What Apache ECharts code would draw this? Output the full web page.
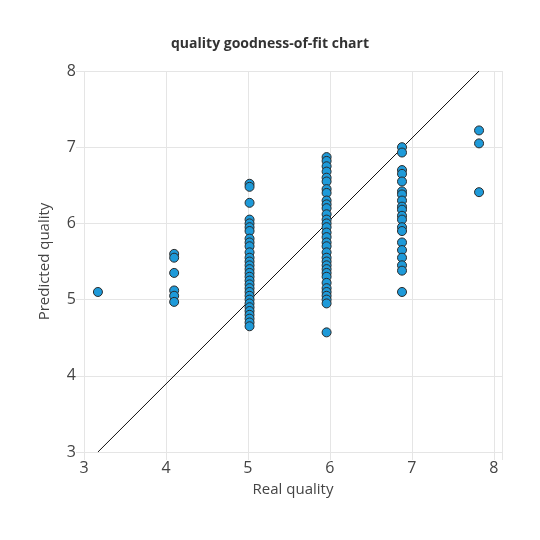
<!DOCTYPE html><html><head><meta charset="utf-8"><script src="https://cdn.jsdelivr.net/npm/echarts@6/dist/echarts.min.js"></script></head><body style="margin:0"><div id="c" style="width:540px;height:540px"></div><script>
const xPos = [3.17, 4.1, 5.02, 5.96, 6.88, 7.82];
const q3 = [5.1];
const q4 = [5.6, 5.55, 5.35, 5.12, 5.05, 4.97];
const q5 = [6.52, 6.48, 6.27, 6.05, 6.0, 5.95, 5.9, 5.8, 5.75, 5.7, 5.62, 5.55, 5.5, 5.45, 5.4, 5.35, 5.3, 5.25, 5.2, 5.15, 5.1, 5.05, 5.0, 4.95, 4.9, 4.85, 4.8, 4.75, 4.7, 4.65];
const q6 = [6.87, 6.82, 6.75, 6.68, 6.6, 6.55, 6.45, 6.4, 6.3, 6.25, 6.2, 6.12, 6.05, 6.0, 5.95, 5.88, 5.82, 5.75, 5.7, 5.62, 5.55, 5.5, 5.45, 5.4, 5.35, 5.3, 5.22, 5.15, 5.1, 5.05, 5.0, 4.95, 4.57];
const q7 = [7.0, 6.93, 6.7, 6.65, 6.55, 6.42, 6.38, 6.3, 6.22, 6.18, 6.1, 6.05, 5.95, 5.9, 5.75, 5.65, 5.55, 5.45, 5.38, 5.1];
const q8 = [7.22, 7.05, 6.41];
const groups = [q3, q4, q5, q6, q7, q8];
const pts = [];
groups.forEach((g, i) => g.forEach(v => pts.push([xPos[i], v])));
const fitLine = [[3.17, 3], [7.82, 8]];
const font = 'Segoe UI, "Open Sans", sans-serif';
const ax = {
  interval: 1,
  axisLine: {show: false}, axisTick: {show: true, length: 8, lineStyle: {color: '#e5e5e5'}},
  splitLine: {lineStyle: {color: '#e5e5e5'}},
  axisLabel: {color: '#444', fontSize: 16, fontFamily: font, formatter: v => Number.isInteger(v) ? String(v) : ''},
  nameLocation: 'middle', nameTextStyle: {color: '#444', fontSize: 15, fontFamily: font}
};
echarts.init(document.getElementById('c')).setOption({
  animation: false,
  title: {text: 'quality goodness-of-fit chart', left: 'center', top: 32, textStyle: {fontSize: 14, fontWeight: 'bold', color: '#333', fontFamily: font}},
  grid: {left: 84, right: 38, top: 71, bottom: 88},
  xAxis: Object.assign({}, ax, {min: 3, max: 8.1, name: 'Real quality', nameGap: 30}),
  yAxis: Object.assign({}, ax, {min: 3, max: 8, name: 'Predicted quality', nameGap: 32}),
  series: [
    {type: 'line', data: fitLine, symbol: 'none', lineStyle: {color: '#111', width: 1}, z: 1},
    {type: 'scatter', data: pts, symbolSize: 9, itemStyle: {color: '#1e9ad9', borderColor: '#2a2a2a', borderWidth: 1, opacity: 1}, z: 2}
  ]
});
</script></body></html>
